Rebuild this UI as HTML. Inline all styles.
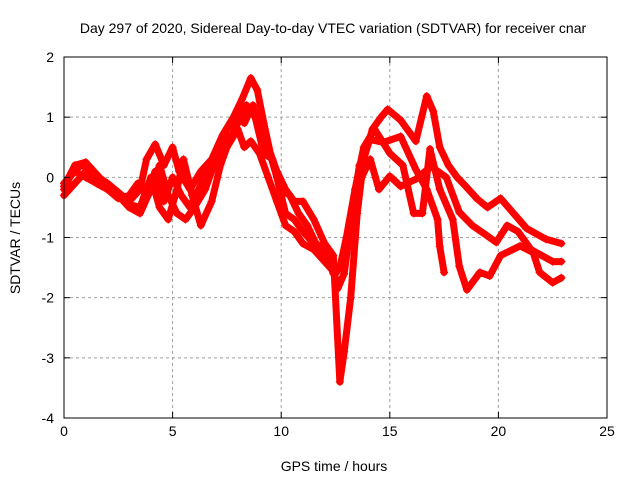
<!DOCTYPE html>
<html><head><meta charset="utf-8"><style>
body{margin:0;background:#fff}
svg{display:block;font-family:"Liberation Sans",sans-serif}
</style></head><body>
<svg width="640" height="480" id="chart">
<rect width="640" height="480" fill="#fff"/>
<text x="333" y="33" font-size="14" text-anchor="middle">Day 297 of 2020, Sidereal Day-to-day VTEC variation (SDTVAR) for receiver cnar</text>
<text x="334" y="471" font-size="14" text-anchor="middle">GPS time / hours</text>
<text transform="translate(20,238) rotate(-90)" font-size="14" text-anchor="middle">SDTVAR / TECUs</text>
<g id="grid"></g><g id="marks"></g><g id="axes"></g>
</svg>
<script>
const xTicks=[0,5,10,15,20,25];
const yTicks=[2,1,0,-1,-2,-3,-4];
const s1=[[0,-0.2],[0.4,0.1],[0.8,0.2],[1.2,0.15],[1.6,0],[2,-0.1],[2.5,-0.25],[3,-0.4],[3.5,-0.2],[3.8,0.3],[4.2,0.55],[4.6,0.2],[5,0.5],[5.3,0.1],[5.8,-0.2],[6.3,0.1],[6.8,0.3],[7.3,0.7],[7.8,1.0],[8.2,1.3],[8.6,1.65],[8.9,1.45],[9.2,0.9],[9.5,0.4],[9.8,0.1],[10.2,-0.2],[10.6,-0.4],[11,-0.4],[11.5,-0.7],[12,-1.1],[12.4,-1.3],[12.7,-3.4],[12.9,-2.9],[13.2,-2.0],[13.5,-0.6],[13.8,0.3],[14.2,0.8],[14.6,1.0],[14.9,1.13],[15.5,0.95],[16.2,0.6],[16.7,1.35],[17.0,1.1],[17.3,0.5],[17.7,0.2],[18.1,0],[18.5,-0.15],[19.0,-0.35],[19.5,-0.5],[20.1,-0.35],[20.7,-0.6],[21.3,-0.85],[22.2,-1.03],[22.9,-1.1]];
const s2=[[0,-0.1],[0.5,0.1],[1,0],[1.5,-0.1],[2,-0.2],[2.5,-0.3],[3,-0.5],[3.5,-0.6],[4,-0.2],[4.4,0.2],[4.8,-0.3],[5.2,-0.6],[5.6,-0.7],[6,-0.5],[6.5,-0.2],[7,0.3],[7.5,0.8],[8,1.1],[8.3,0.9],[8.7,1.2],[9.0,0.8],[9.4,0.5],[9.8,0.0],[10.2,-0.6],[10.6,-0.7],[11,-0.9],[11.5,-1.1],[12,-1.3],[12.4,-1.5],[12.6,-1.85],[12.9,-1.6],[13.2,-0.8],[13.6,0.2],[14.1,0.63],[14.7,0.58],[15.5,0.68],[16.2,0.13],[16.7,-0.2],[17.2,-0.7],[17.3,-1.15],[17.5,-1.58]];
const s3=[[0,-0.3],[0.5,-0.1],[1,0.1],[1.5,-0.1],[2,-0.2],[2.5,-0.35],[3,-0.3],[3.4,-0.1],[3.8,-0.3],[4.2,0.1],[4.6,-0.4],[5,0.0],[5.4,-0.3],[5.8,-0.5],[6.2,-0.2],[6.6,0.1],[7,0.2],[7.5,0.5],[8,0.8],[8.3,0.5],[8.6,0.6],[9,0.4],[9.4,0.0],[9.8,-0.4],[10.2,-0.8],[10.6,-0.9],[11,-1.1],[11.5,-1.2],[12,-1.4],[12.5,-1.6],[12.9,-1.4],[13.3,-0.5],[13.7,0.0],[14.1,0.3],[14.5,-0.2],[15.0,0.02],[15.5,-0.15],[16.2,-0.03],[16.9,0.18],[17.6,0],[18.2,-0.58],[18.8,-0.8],[19.4,-0.95],[19.9,-1.08],[20.4,-0.8],[20.9,-0.9],[21.5,-1.2],[22,-1.3],[22.5,-1.4],[22.9,-1.4]];
const s4=[[0,-0.15],[0.5,0.2],[1,0.25],[1.5,0.05],[2,-0.15],[2.5,-0.3],[3,-0.45],[3.5,-0.5],[4,0.0],[4.4,-0.5],[4.8,-0.7],[5.2,-0.2],[5.5,0.3],[5.9,-0.3],[6.3,-0.8],[6.8,-0.4],[7.2,0.2],[7.6,0.6],[8,0.9],[8.4,1.2],[8.8,1.0],[9.2,0.4],[9.6,0.3],[10,-0.2],[10.4,-0.3],[10.8,-0.6],[11.2,-0.8],[11.6,-1.1],[12,-1.2],[12.4,-1.6],[12.7,-1.5],[13,-1.0],[13.4,-0.2],[13.8,0.5],[14.3,0.8],[15,0.4],[15.6,0.2],[16.1,-0.6],[16.5,-0.6],[16.85,0.47],[17.3,-0.2],[17.9,-0.7],[18.2,-1.48],[18.55,-1.87],[19.15,-1.58],[19.6,-1.64],[20.1,-1.3],[21.0,-1.14],[21.6,-1.25],[21.9,-1.58],[22.5,-1.75],[22.9,-1.67]];
const series=[s1,s2,s3,s4];
const L=64,R=607,T=57,B=418;
const X=v=>L+(v-0)/(25-0)*(R-L);
const Y=v=>B-(v+4)/6*(B-T);
const NS="http://www.w3.org/2000/svg";
function mk(tag,parent,attrs){const e=document.createElementNS(NS,tag);for(const k in attrs)e.setAttribute(k,attrs[k]);parent.appendChild(e);return e;}
const grid=document.getElementById('grid'),axes=document.getElementById('axes'),marks=document.getElementById('marks');
xTicks.forEach(t=>{
  if(t>0&&t<25){const g=mk('line',grid,{x1:X(t),x2:X(t),y1:T,y2:B,stroke:'#a0a0a0','stroke-dasharray':'3,3'});
  
  }
  mk('line',axes,{x1:X(t),x2:X(t),y1:B,y2:B-6,stroke:'#000'});
  mk('line',axes,{x1:X(t),x2:X(t),y1:T,y2:T+6,stroke:'#000'});
  const tx=mk('text',axes,{x:X(t),y:B+18,'font-size':14,'text-anchor':'middle'});tx.textContent=t;
  
  
});
yTicks.forEach(t=>{
  if(t<2&&t>-4){const g=mk('line',grid,{x1:L,x2:R,y1:Y(t),y2:Y(t),stroke:'#a0a0a0','stroke-dasharray':'3,3'});
  
  }
  mk('line',axes,{x1:L,x2:L+6,y1:Y(t),y2:Y(t),stroke:'#000'});
  mk('line',axes,{x1:R,x2:R-6,y1:Y(t),y2:Y(t),stroke:'#000'});
  const tx=mk('text',axes,{x:L-10,y:Y(t)+5,'font-size':14,'text-anchor':'end'});tx.textContent=t;
  
  
});
const fr=mk('rect',axes,{x:L,y:T,width:R-L,height:B-T,fill:'none',stroke:'#000'});


series.forEach((s,i)=>{
  const pl=mk('polyline',marks,{points:s.map(p=>X(p[0])+','+Y(p[1])).join(' '),fill:'none',stroke:'#f00','stroke-width':7,'stroke-linejoin':'round','stroke-linecap':'round'});
  
  
  s.forEach(p=>{
    const m=mk('path',marks,{d:`M${X(p[0])-4},${Y(p[1])}h8M${X(p[0])},${Y(p[1])-4}v8`,stroke:'#f00','stroke-width':1.2});
    
    
  });
});
</script>
</body></html>
